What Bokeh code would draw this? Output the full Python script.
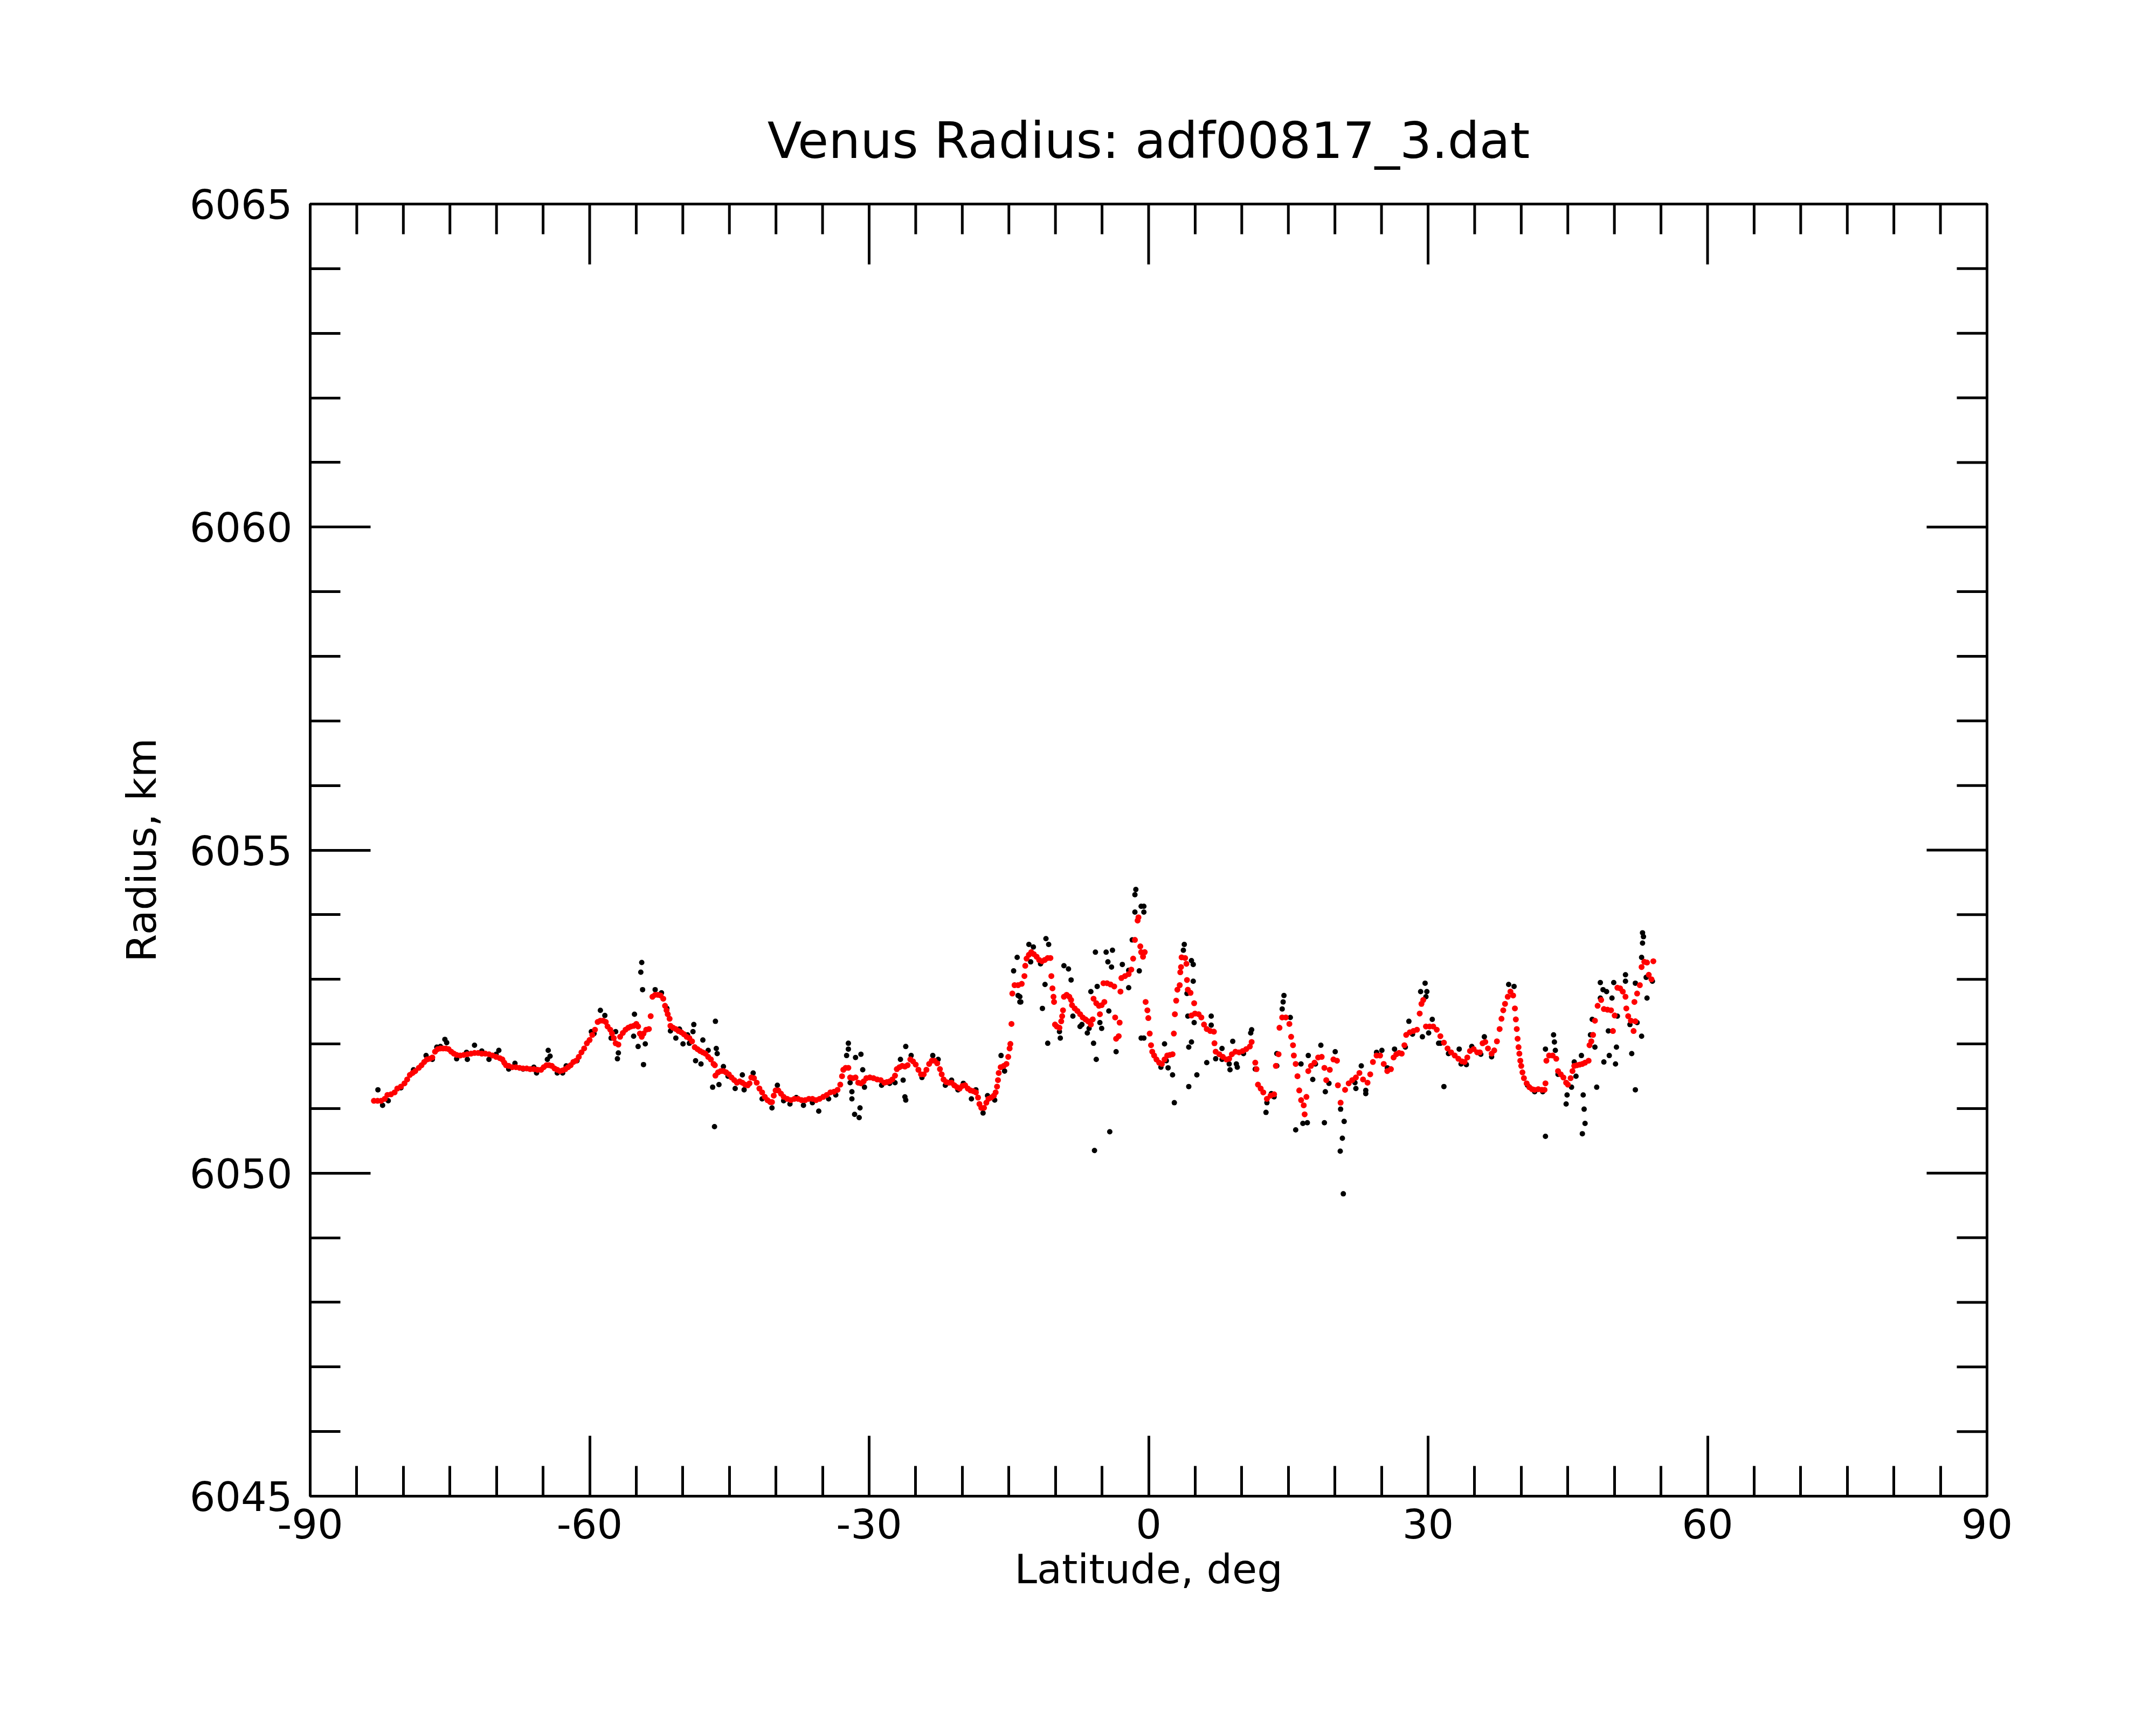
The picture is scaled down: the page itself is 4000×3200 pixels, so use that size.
from bokeh.plotting import figure
from bokeh.models import FixedTicker, Range1d
from bokeh.embed import file_html
from bokeh.resources import INLINE

TITLE = "Venus Radius: adf00817_3.dat"
X_LABEL = "Latitude, deg"
Y_LABEL = "Radius, km"

x_ticks = [-90, -60, -30, 0, 30, 60, 90]
x_tick_labels = ["-90", "-60", "-30", "0", "30", "60", "90"]
x_minor = [-90, -85, -80, -75, -70, -65, -60, -55, -50, -45, -40, -35, -30, -25, -20, -15, -10, -5,
           0, 5, 10, 15, 20, 25, 30, 35, 40, 45, 50, 55, 60, 65, 70, 75, 80, 85, 90]
y_ticks = [6045, 6050, 6055, 6060, 6065]
y_tick_labels = ["6045", "6050", "6055", "6060", "6065"]
y_minor = [6045, 6046, 6047, 6048, 6049, 6050, 6051, 6052, 6053, 6054, 6055, 6056, 6057, 6058,
           6059, 6060, 6061, 6062, 6063, 6064, 6065]

# filtered radius (red)
red_lat = [
    -83.16, -82.77, -82.39, -82.00, -81.71, -81.33, -80.94, -80.65, -80.26, -79.88, -79.59, -79.30,
    -79.01, -78.72, -78.34, -78.05, -77.76, -77.47, -77.18, -76.89, -76.60, -76.31, -76.02, -75.73,
    -75.44, -75.15, -74.86, -74.57, -74.28, -73.90, -73.51, -73.13, -72.74, -72.36, -71.97, -71.58,
    -71.20, -70.81, -70.43, -70.04, -69.65, -69.37, -69.17, -68.98, -68.69, -68.30, -67.92, -67.53,
    -67.15, -66.76, -66.38, -65.99, -65.60, -65.22, -64.93, -64.64, -64.35, -64.06, -63.77, -63.48,
    -63.19, -62.90, -62.61, -62.32, -62.04, -61.75, -61.46, -61.17, -60.88, -60.59, -60.30, -60.01,
    -59.72, -59.43, -59.14, -58.85, -58.56, -58.27, -58.08, -57.79, -57.60, -57.41, -57.21, -56.92,
    -56.73, -56.44, -56.15,
    -55.86, -55.57, -55.28, -54.99, -54.80, -54.61, -54.41, -54.22, -53.93, -53.64, -53.45, -53.26,
    -52.97, -52.68, -52.39, -52.10, -51.91, -51.75, -51.62, -51.42, -51.33, -51.04, -50.75, -50.46,
    -50.17, -49.88, -49.59, -49.30, -49.01, -48.72, -48.43, -48.14, -47.86, -47.57, -47.28, -46.99,
    -46.70, -46.56, -46.50, -46.22, -45.93, -45.64, -45.35, -45.06, -44.77, -44.48, -44.19, -43.90,
    -43.61, -43.32, -43.03, -42.84, -42.65, -42.36, -42.07, -41.78, -41.49, -41.20, -40.91, -40.62,
    -40.43, -40.24, -40.04, -39.75, -39.46, -39.17, -38.79, -38.40, -38.02, -37.63, -37.25, -36.86,
    -36.47, -36.09, -35.70, -35.32, -34.93, -34.55, -34.16, -33.77, -33.39, -33.10, -32.91, -32.77,
    -32.52, -32.23, -32.04, -31.75, -31.46, -31.17, -30.88, -30.59, -30.30, -29.92, -29.53, -29.14,
    -28.76, -28.37,
    -28.09, -27.80, -27.51, -27.22, -27.03, -26.74, -26.45, -26.16, -25.87, -25.58, -25.29, -25.00,
    -24.71, -24.43, -24.14, -23.85, -23.56, -23.27, -22.98, -22.69, -22.40, -22.21, -22.01, -21.73,
    -21.44, -21.15, -20.86, -20.57, -20.28, -19.99, -19.70, -19.41, -19.12, -18.83, -18.54, -18.31,
    -18.16, -17.96, -17.67, -17.42, -17.19, -16.90, -16.61, -16.42, -16.27, -16.17, -16.09, -15.88,
    -15.55, -15.26, -15.07, -14.92, -14.84, -14.72, -14.63, -14.39, -14.01, -13.62, -13.33, -13.24,
    -13.10, -12.85, -12.60, -12.33, -12.02, -11.75, -11.44, -11.15, -10.83, -10.54, -10.44, -10.32,
    -10.21,
    -10.15, -9.19, -9.28, -9.38, -10.05, -9.86, -9.57, -9.09, -8.80, -8.51, -8.32, -8.22, -7.93,
    -7.64, -7.35, -7.07, -6.78, -6.49, -6.20, -6.00, -5.91, -5.62, -5.33, -5.04, -4.75, -5.23,
    -4.85, -4.46, -4.08, -3.69, -3.02, -3.59, -3.11, -3.21, -3.49, -2.92, -2.53, -2.14, -1.86,
    -1.66, -1.47, -1.18, -1.09, -0.89, -0.80, -0.60,
    -0.42, -0.32, -0.13, -0.03, 0.12, 0.26, 0.39, 0.59, 0.84, 1.13, 1.42, 1.71, 2.00, 2.28, 2.57,
    2.71, 2.82, 2.96, 3.09, 3.34, 3.40, 3.48, 3.54, 3.92, 4.06, 4.12, 4.21, 4.50, 4.89, 4.60, 4.98,
    5.37, 5.66, 5.95, 6.24, 6.62, 7.01, 7.07, 7.20, 7.59, 7.97, 8.36, 8.65, 8.94, 9.32, 9.71, 10.10,
    10.48, 10.87, 11.06, 11.45, 11.58, 11.74, 12.03, 12.31, 12.70, 13.09, 13.47, 13.66, 13.95,
    14.05, 14.34, 14.73, 15.11, 15.30, 15.50, 15.59, 15.79, 15.98, 16.17, 16.37, 16.65, 16.75,
    16.94, 17.14, 17.43, 17.81, 18.20, 18.58, 18.87, 19.07, 19.45, 19.84, 20.22, 20.32, 20.61,
    21.09, 21.48, 21.86, 22.25, 22.63, 23.02, 23.50, 23.79, 24.08, 24.47, 24.85, 25.24, 25.62,
    26.01, 26.30, 26.59, 26.88,
    27.17, 27.46, 27.65, 28.04, 28.42, 28.81, 29.10, 29.29, 29.48, 29.77, 30.16, 30.55, 30.93,
    31.32, 31.70, 32.09, 32.47, 32.86, 33.25, 33.63, 33.92, 34.21, 34.50, 34.89, 35.27, 35.56,
    35.85, 36.14, 36.43, 36.82, 37.10, 37.39, 37.68, 37.88, 38.07, 38.26, 38.55, 38.84, 39.13,
    39.32, 39.42, 39.52, 39.61, 39.71, 39.80, 39.90, 40.00, 40.13, 40.29, 40.58, 40.87, 41.16,
    41.44, 41.83, 42.22, 42.50, 42.60, 42.70, 42.99, 43.37, 43.76, 43.95, 44.24, 44.53, 44.82,
    45.01, 45.30, 45.50, 45.69, 45.98, 46.27, 46.56, 46.85, 47.23, 47.33, 47.52, 47.71, 47.91,
    48.20, 48.58, 48.87, 49.26, 49.64, 49.84, 50.03, 50.32, 50.61, 50.90, 51.19, 51.28, 51.48,
    51.77, 52.25, 52.06, 52.15, 52.44, 52.73, 52.92, 53.21, 53.50, 53.69, 53.98, 54.18,
]
red_rad = [
    6051.12, 6051.12, 6051.12, 6051.15, 6051.21, 6051.22, 6051.25, 6051.31, 6051.34, 6051.39, 6051.45, 6051.52,
    6051.55, 6051.58, 6051.63, 6051.67, 6051.72, 6051.76, 6051.77, 6051.79, 6051.88, 6051.92, 6051.93, 6051.93,
    6051.93, 6051.92, 6051.88, 6051.85, 6051.83, 6051.82, 6051.83, 6051.84, 6051.85, 6051.86, 6051.86, 6051.85,
    6051.85, 6051.84, 6051.82, 6051.80, 6051.78, 6051.76, 6051.71, 6051.67, 6051.66, 6051.64, 6051.64, 6051.63,
    6051.62, 6051.62, 6051.61, 6051.61, 6051.60, 6051.60, 6051.64, 6051.67, 6051.67, 6051.66, 6051.62, 6051.60,
    6051.58, 6051.59, 6051.61, 6051.64, 6051.67, 6051.72, 6051.74, 6051.80, 6051.87, 6051.93, 6052.01, 6052.06,
    6052.14, 6052.22, 6052.34, 6052.36, 6052.36, 6052.34, 6052.27, 6052.22, 6052.16, 6052.09, 6052.01, 6051.99,
    6052.11, 6052.17, 6052.22,
    6052.25, 6052.27, 6052.28, 6052.31, 6052.27, 6052.16, 6052.11, 6052.16, 6052.22, 6052.23, 6052.43, 6052.73,
    6052.76, 6052.76, 6052.75, 6052.70, 6052.59, 6052.52, 6052.46, 6052.39, 6052.28, 6052.25, 6052.23, 6052.20,
    6052.18, 6052.15, 6052.11, 6052.09, 6052.04, 6051.95, 6051.92, 6051.89, 6051.87, 6051.85, 6051.80, 6051.76,
    6051.69, 6051.67, 6051.51, 6051.56, 6051.58, 6051.58, 6051.56, 6051.53, 6051.48, 6051.44, 6051.40, 6051.42,
    6051.40, 6051.37, 6051.36, 6051.39, 6051.48, 6051.47, 6051.40, 6051.31, 6051.25, 6051.18, 6051.13, 6051.10,
    6051.10, 6051.20, 6051.28, 6051.28, 6051.23, 6051.18, 6051.15, 6051.13, 6051.15, 6051.15, 6051.13, 6051.13,
    6051.15, 6051.15, 6051.13, 6051.15, 6051.18, 6051.21, 6051.25, 6051.26, 6051.29, 6051.37, 6051.50, 6051.60,
    6051.63, 6051.63, 6051.48, 6051.47, 6051.48, 6051.40, 6051.39, 6051.42, 6051.47, 6051.48, 6051.47, 6051.45,
    6051.44, 6051.40,
    6051.41, 6051.42, 6051.45, 6051.51, 6051.61, 6051.64, 6051.66, 6051.65, 6051.67, 6051.76, 6051.73, 6051.68,
    6051.60, 6051.53, 6051.53, 6051.60, 6051.69, 6051.74, 6051.74, 6051.70, 6051.61, 6051.53, 6051.45, 6051.41,
    6051.40, 6051.40, 6051.36, 6051.33, 6051.31, 6051.35, 6051.36, 6051.31, 6051.28, 6051.27, 6051.25, 6051.17,
    6051.07, 6051.01, 6051.01, 6051.09, 6051.15, 6051.17, 6051.20, 6051.25, 6051.34, 6051.44, 6051.55, 6051.64,
    6051.66, 6051.69, 6051.80, 6051.93, 6052.00, 6052.31, 6052.78, 6052.91, 6052.91, 6052.93, 6053.05, 6053.21,
    6053.32, 6053.38, 6053.42, 6053.39, 6053.35, 6053.30, 6053.28, 6053.30, 6053.33, 6053.33, 6053.05, 6052.86,
    6052.73,
    6052.65, 6052.52, 6052.43, 6052.35, 6052.30, 6052.27, 6052.25, 6052.73, 6052.76, 6052.73, 6052.68, 6052.60, 6052.55,
    6052.51, 6052.46, 6052.41, 6052.38, 6052.35, 6052.30, 6052.38, 6052.70, 6052.63, 6052.59, 6052.60, 6052.65, 6052.46,
    6052.94, 6052.94, 6052.92, 6052.89, 6052.81, 6052.41, 6052.33, 6052.12, 6052.08, 6053.02, 6053.05, 6053.08, 6053.15,
    6053.32, 6053.61, 6053.91, 6053.96, 6053.51, 6053.42, 6053.35,
    6053.42, 6052.65, 6052.52, 6052.40, 6052.16, 6051.98, 6051.88, 6051.82, 6051.76, 6051.71, 6051.69, 6051.76, 6051.82, 6051.83, 6051.84,
    6052.16, 6052.46, 6052.67, 6052.84, 6052.91, 6053.11, 6053.19, 6053.34, 6053.33, 6053.24, 6052.99, 6052.84, 6052.79, 6052.63, 6052.44, 6052.47,
    6052.46, 6052.41, 6052.30, 6052.23, 6052.20, 6052.19, 6052.01, 6051.88, 6051.84, 6051.80, 6051.76, 6051.77, 6051.84, 6051.88, 6051.87, 6051.89,
    6051.92, 6051.96, 6052.03, 6051.71, 6051.61, 6051.37, 6051.31, 6051.25, 6051.15, 6051.20, 6051.22, 6051.66, 6051.84,
    6052.25, 6052.41, 6052.41, 6052.31, 6052.11, 6051.98, 6051.82, 6051.69, 6051.50, 6051.28, 6051.13, 6051.05, 6050.91,
    6051.18, 6051.58, 6051.66, 6051.71, 6051.79, 6051.80, 6051.63, 6051.44, 6051.60, 6051.76, 6051.74, 6051.36, 6051.09,
    6051.29, 6051.39, 6051.44, 6051.48, 6051.55, 6051.45, 6051.40, 6051.53, 6051.72, 6051.82, 6051.82, 6051.69, 6051.58,
    6051.61, 6051.79, 6051.84, 6051.86,
    6051.85, 6051.98, 6052.14, 6052.18, 6052.20, 6052.22, 6052.47, 6052.62, 6052.68, 6052.27, 6052.27, 6052.27, 6052.22,
    6052.12, 6052.02, 6051.93, 6051.87, 6051.82, 6051.77, 6051.73, 6051.72, 6051.79, 6051.89, 6051.92, 6051.87, 6051.87,
    6052.01, 6052.03, 6051.93, 6051.85, 6051.90, 6052.04, 6052.23, 6052.39, 6052.52, 6052.62, 6052.73, 6052.81, 6052.75,
    6052.55, 6052.38, 6052.23, 6052.08, 6051.95, 6051.85, 6051.74, 6051.66, 6051.56, 6051.47, 6051.39, 6051.33, 6051.30,
    6051.29, 6051.30, 6051.29, 6051.29, 6051.39, 6051.74, 6051.82, 6051.82, 6051.77, 6051.58, 6051.53, 6051.48, 6051.40,
    6051.37, 6051.47, 6051.58, 6051.66, 6051.67, 6051.68, 6051.69, 6051.71, 6051.74, 6051.98, 6052.04, 6052.14, 6052.36,
    6052.59, 6052.68, 6052.54, 6052.53, 6052.52, 6052.20, 6052.44, 6052.87, 6052.86, 6052.81, 6052.73, 6052.55, 6052.43,
    6052.36, 6052.35, 6052.20, 6052.65, 6052.78, 6052.91, 6053.19, 6053.27, 6053.26, 6053.07, 6053.00, 6053.28,
]

# raw radius (black)
black_lat = [
    -82.23, -81.62, -80.26, -78.91, -77.56, -76.89, -76.41, -76.02, -74.28, -73.22, -73.13, -71.58,
    -70.81, -70.04, -68.69, -68.02, -67.15, -65.99, -65.70, -63.48, -62.90, -62.52, -61.36, -59.82,
    -59.53, -82.73, -75.54, -75.35, -72.36, -69.75, -64.45, -64.54, -64.25, -58.85, -58.37, -57.21,
    -56.92, -57.02, -57.70,
    -54.41, -54.51, -54.32, -54.22, -54.03, -54.80, -55.28, -55.19, -46.50, -46.41, -46.31, -46.60,
    -46.80, -46.12, -48.82, -48.91, -47.85, -48.63, -48.05, -50.75, -49.98, -32.23, -32.23, -32.42,
    -31.46, -30.88, -30.69, -31.85, -31.85, -30.98, -31.56, -31.07, -35.41, -39.85, -40.43, -43.61,
    -42.45, -45.64, -52.97, -52.29, -51.71, -51.33, -50.36, -49.49, -49.30, -47.28, -46.99, -45.15,
    -44.38, -43.42, -41.49, -39.18, -38.50, -37.82, -37.05, -36.09, -34.35, -33.58, -32.04, -30.50,
    -29.92, -28.66,
    -27.80, -27.22, -26.64, -25.49, -24.33, -23.17, -22.59, -21.82, -21.15, -20.47, -19.89, -19.02,
    -18.54, -17.77, -17.29, -16.52, -15.46, -14.01, -13.72, -11.60, -9.86, -9.57, -7.36, -6.39,
    -2.14, -26.07, -26.35, -26.16, -26.07, -15.84, -14.11, -14.49, -13.82, -13.82, -12.85, -12.37,
    -12.66, -11.02, -10.73, -11.12, -11.40, -10.83, -9.48, -9.09, -8.60, -8.32, -5.71, -4.56,
    -3.88, -4.37, -3.98, -5.52, -6.20, -4.27, -5.23, -5.04, -6.58, -5.91, -5.62, -7.16,
    -8.13, -2.82, -2.14, -1.00, -3.49, -0.80, -4.17, -5.81, -1.37, -1.47, -1.47, -0.80,
    -1.76,
    -0.51, -0.51, -0.42, -0.51, 1.71, 2.09, 2.57, 2.76, 3.83, 3.73, 4.60, 4.79,
    4.79, 4.12, 4.21, 4.89, 4.31, 4.60, 5.18, 4.31, 6.24, 6.72, 6.72, 7.20,
    7.88, 8.74, 9.03, 9.42, 9.52, 11.06, 10.96, 11.45, 12.60, 13.18, 13.76, 13.76,
    14.53, 14.44, 14.34, 15.21, 15.79, 16.36, 16.56, 17.04, 17.14, 17.62, 18.49, 18.87,
    18.97, 20.03, 19.36, 20.61, 20.99, 20.80, 20.57, 20.90, 22.25, 22.83, 23.31, 25.04,
    26.40, 1.32, 1.90, 7.88, 8.65, 10.19, 12.70, 13.47, 17.91, 22.15, 23.31, 24.47,
    25.62,
    27.94, 29.68, 29.20, 29.87, 29.77, 29.39, 30.45, 31.70, 31.32, 33.34, 34.69, 36.04,
    38.65, 39.23, 42.60, 42.60, 43.47, 43.56, 43.66, 44.92, 44.82, 45.88, 46.46, 46.65,
    46.75, 46.85, 46.56, 48.10, 47.62, 47.43, 47.91, 48.49, 48.78, 49.16, 48.49, 48.87,
    49.45, 50.12, 50.22, 49.35, 49.74, 49.93, 51.19, 51.19, 52.25, 51.86, 52.25, 52.92,
    53.50, 53.02, 53.12, 53.02, 52.92, 53.41, 27.56, 28.33, 30.06, 31.13, 32.19, 33.54,
    34.11, 35.66, 36.82, 40.67, 41.44, 42.31, 43.95, 45.40, 45.69, 50.32, 51.67, 52.44,
    54.08,
]
black_rad = [
    6051.05, 6051.12, 6051.32, 6051.60, 6051.82, 6051.76, 6051.95, 6051.96, 6051.77, 6051.87, 6051.76, 6051.89,
    6051.76, 6051.84, 6051.61, 6051.70, 6051.61, 6051.64, 6051.55, 6051.55, 6051.55, 6051.66, 6051.74, 6052.19,
    6052.16, 6051.29, 6052.07, 6052.02, 6051.98, 6051.90, 6051.90, 6051.76, 6051.81, 6052.52, 6052.44, 6052.19,
    6051.86, 6051.77, 6052.09,
    6053.26, 6053.11, 6052.84, 6051.68, 6052.00, 6051.96, 6052.12, 6052.46, 6052.35, 6051.93, 6051.85, 6050.72,
    6051.33, 6051.37, 6052.30, 6052.19, 6052.06, 6051.74, 6051.69, 6052.09, 6052.00, 6052.01, 6051.92, 6051.82,
    6051.79, 6051.84, 6051.60, 6051.26, 6051.15, 6051.01, 6050.91, 6050.86, 6050.96, 6051.36, 6051.01, 6051.52,
    6051.55, 6051.65, 6052.84, 6052.79, 6052.55, 6052.20, 6052.23, 6052.14, 6052.01, 6051.90, 6051.76, 6051.50,
    6051.31, 6051.29, 6051.15, 6051.12, 6051.07, 6051.17, 6051.05, 6051.09, 6051.15, 6051.21, 6051.40, 6051.33,
    6051.48, 6051.36,
    6051.39, 6051.40, 6051.76, 6051.82, 6051.48, 6051.82, 6051.76, 6051.36, 6051.44, 6051.29, 6051.39, 6051.15,
    6051.29, 6050.93, 6051.20, 6051.13, 6051.58, 6052.75, 6052.65, 6053.24, 6052.27, 6052.19, 6052.27, 6052.24,
    6052.87, 6051.96, 6051.44, 6051.18, 6051.13, 6051.82, 6053.34, 6053.13, 6052.73, 6052.65, 6053.54, 6053.50,
    6053.27, 6053.63, 6053.54, 6052.92, 6052.55, 6052.01, 6052.09, 6053.21, 6053.16, 6052.99, 6053.42, 6053.42,
    6053.45, 6053.27, 6053.19, 6052.89, 6052.81, 6052.51, 6052.33, 6052.24, 6052.17, 6052.01, 6051.76, 6052.30,
    6052.43, 6053.23, 6053.14, 6053.13, 6051.88, 6052.09, 6050.64, 6050.35, 6054.39, 6054.31, 6054.04, 6054.13,
    6053.61,
    6054.13, 6054.04, 6053.42, 6052.09, 6052.00, 6051.63, 6051.52, 6051.09, 6053.54, 6053.45, 6053.29, 6053.23,
    6052.97, 6052.78, 6052.43, 6052.33, 6051.95, 6052.03, 6051.52, 6051.34, 6051.71, 6052.43, 6052.29, 6051.77,
    6051.93, 6051.60, 6052.04, 6051.69, 6051.64, 6052.22, 6052.17, 6051.61, 6050.94, 6051.23, 6051.85, 6051.66,
    6052.75, 6052.65, 6052.54, 6052.41, 6050.67, 6051.69, 6050.77, 6050.78, 6051.82, 6051.45, 6051.98, 6050.78,
    6051.26, 6051.88, 6051.39, 6050.99, 6050.80, 6050.54, 6050.34, 6049.68, 6051.31, 6051.66, 6051.23, 6051.90,
    6051.92, 6051.64, 6051.74, 6051.76, 6051.69, 6051.85, 6051.09, 6051.18, 6051.69, 6051.40, 6051.28, 6051.87,
    6051.63,
    6052.35, 6052.94, 6052.81, 6052.81, 6052.73, 6052.11, 6052.38, 6051.34, 6052.01, 6051.92, 6051.96, 6052.11,
    6052.92, 6052.89, 6050.57, 6051.92, 6052.14, 6052.03, 6051.90, 6051.21, 6051.07, 6051.50, 6051.82, 6051.21,
    6050.99, 6050.77, 6050.61, 6051.33, 6052.38, 6052.14, 6051.95, 6052.95, 6052.84, 6052.81, 6052.71, 6051.72,
    6051.82, 6051.69, 6051.95, 6052.20, 6052.71, 6052.95, 6053.07, 6052.97, 6052.94, 6051.85, 6051.29, 6052.12,
    6052.71, 6053.72, 6053.66, 6053.56, 6053.34, 6053.03, 6051.95, 6052.15, 6052.17, 6052.01, 6051.85, 6051.69,
    6051.68, 6051.84, 6051.80, 6051.36, 6051.26, 6051.26, 6051.53, 6051.33, 6051.72, 6052.43, 6052.30, 6052.33,
    6052.97,
]

FONT = "DejaVu Sans"
X0, X1 = -90, 90
Y0, Y1 = 6045, 6065

p = figure(width=3984, height=3184,
           x_range=Range1d(X0, X1), y_range=Range1d(Y0, Y1),
           output_backend="svg", toolbar_location=None,
           min_border_left=575, min_border_right=298,
           min_border_top=378, min_border_bottom=409,
           background_fill_color="white", border_fill_color="white")

p.title.text = TITLE
p.title.align = "center"
p.title.text_font = FONT
p.title.text_font_size = "93px"
p.title.text_font_style = "normal"
p.title.text_color = "black"
p.title.standoff = 128

p.xgrid.visible = False
p.ygrid.visible = False
p.outline_line_color = "black"
p.outline_line_width = 5

xax = p.below[0]
yax = p.left[0]
xax.ticker = FixedTicker(ticks=x_ticks, minor_ticks=x_minor)
yax.ticker = FixedTicker(ticks=y_ticks, minor_ticks=y_minor)
xax.major_label_overrides = {t: s for t, s in zip(x_ticks, x_tick_labels)}
yax.major_label_overrides = {t: s for t, s in zip(y_ticks, y_tick_labels)}
xax.axis_label = X_LABEL
yax.axis_label = Y_LABEL

for ax in [xax, yax]:
    ax.axis_line_color = "black"
    ax.axis_line_width = 5
    ax.major_tick_in = 112
    ax.major_tick_out = 0
    ax.minor_tick_in = 56
    ax.minor_tick_out = 0
    ax.major_tick_line_color = "black"
    ax.major_tick_line_width = 5
    ax.minor_tick_line_color = "black"
    ax.minor_tick_line_width = 5
    ax.major_label_text_font = FONT
    ax.major_label_text_font_size = "75px"
    ax.major_label_text_color = "black"
    ax.axis_label_text_font = FONT
    ax.axis_label_text_font_size = "75px"
    ax.axis_label_text_font_style = "normal"
    ax.axis_label_text_color = "black"

xax.major_label_standoff = 23
xax.axis_label_standoff = 10
yax.major_label_standoff = 33
yax.axis_label_standoff = 42

# mirrored inward ticks on the top and right edges (lengths match the bottom/left ticks)
px_per_x = 3111 / (X1 - X0)
px_per_y = 2397 / (Y1 - Y0)
top_minor = [t for t in x_minor if t not in x_ticks]
right_minor = [t for t in y_minor if t not in y_ticks]
p.segment(x0=x_ticks, y0=[Y1] * len(x_ticks), x1=x_ticks, y1=[Y1 - 112 / px_per_y] * len(x_ticks),
          line_color="black", line_width=5)
p.segment(x0=top_minor, y0=[Y1] * len(top_minor), x1=top_minor, y1=[Y1 - 56 / px_per_y] * len(top_minor),
          line_color="black", line_width=5)
p.segment(x0=[X1] * len(y_ticks), y0=y_ticks, x1=[X1 - 112 / px_per_x] * len(y_ticks), y1=y_ticks,
          line_color="black", line_width=5)
p.segment(x0=[X1] * len(right_minor), y0=right_minor, x1=[X1 - 56 / px_per_x] * len(right_minor), y1=right_minor,
          line_color="black", line_width=5)

p.scatter(black_lat, black_rad, size=10, fill_color="black", line_color=None)
p.scatter(red_lat, red_rad, size=11, fill_color="red", line_color=None)

open("out.html", "w").write(file_html(p, INLINE))
